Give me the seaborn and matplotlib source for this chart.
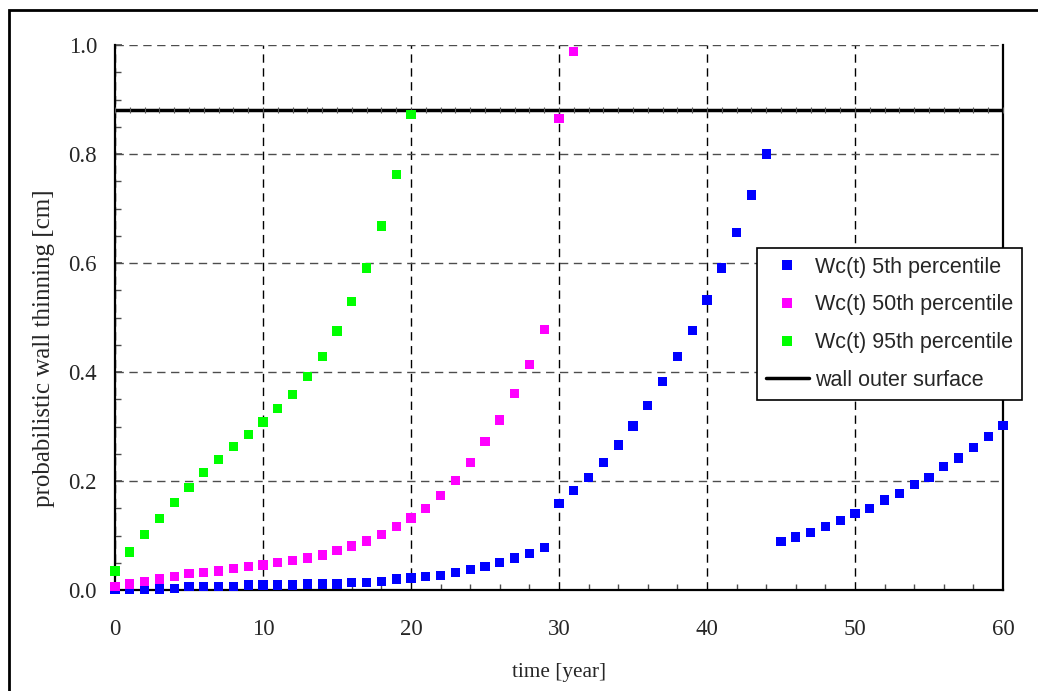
import matplotlib
matplotlib.use("Agg")
import numpy as np
import pandas as pd
import matplotlib.pyplot as plt
from matplotlib.patches import Rectangle
from matplotlib.ticker import MultipleLocator
import seaborn as sns

# years
years_p5 = list(range(0, 61))
years_p50 = list(range(0, 32))
years_p95 = list(range(0, 21))

# wall thinning [cm]
wc_p5 = [0.001, 0.001, 0.002, 0.002, 0.003, 0.006, 0.006, 0.006, 0.006, 0.009,
         0.009, 0.009, 0.009, 0.011, 0.011, 0.011, 0.014, 0.014, 0.016, 0.020,
         0.022, 0.025, 0.027, 0.032, 0.038, 0.043, 0.051, 0.059, 0.067, 0.078,
         0.159, 0.183, 0.207, 0.234, 0.266, 0.301, 0.338, 0.382, 0.428, 0.476,
         0.532, 0.591, 0.656, 0.725, 0.800, 0.089, 0.097, 0.105, 0.116, 0.127,
         0.140, 0.150, 0.165, 0.177, 0.193, 0.207, 0.226, 0.242, 0.261, 0.282,
         0.302]
wc_p50 = [0.006, 0.011, 0.016, 0.020, 0.025, 0.030, 0.032, 0.035, 0.040, 0.043,
          0.046, 0.051, 0.054, 0.059, 0.064, 0.073, 0.081, 0.090, 0.102, 0.116,
          0.132, 0.150, 0.174, 0.201, 0.234, 0.272, 0.312, 0.360, 0.414, 0.478,
          0.865, 0.988]
wc_p95 = [0.035, 0.070, 0.102, 0.131, 0.161, 0.188, 0.215, 0.239, 0.263, 0.285,
          0.308, 0.333, 0.359, 0.392, 0.429, 0.475, 0.529, 0.591, 0.668, 0.763,
          0.873]

wall_years = list(range(0, 61))
wall_outer = 0.88

labels = ["Wc(t) 5th percentile", "Wc(t) 50th percentile", "Wc(t) 95th percentile"]
colors = ["#0000FF", "#FF00FF", "#00FF00"]

df = pd.concat([
    pd.DataFrame({"year": years_p5, "wc": wc_p5, "series": labels[0]}),
    pd.DataFrame({"year": years_p50, "wc": wc_p50, "series": labels[1]}),
    pd.DataFrame({"year": years_p95, "wc": wc_p95, "series": labels[2]}),
])
wall_df = pd.DataFrame({"year": wall_years, "wc": [wall_outer] * len(wall_years)})

sns.set_style("white")
serif = ["Liberation Serif", "DejaVu Serif"]
sans = ["Liberation Sans", "DejaVu Sans"]

fig = plt.figure(figsize=(10.38, 6.91), dpi=100)
ax = fig.add_axes([115 / 1038, 1 - 590 / 691, 888 / 1038, 545 / 691])

# outer frame around the chart
fig.patches.append(Rectangle((8.5 / 1038, -0.1), 1.2, 1 - 9.5 / 691 + 0.1,
                             transform=fig.transFigure, fill=False,
                             edgecolor="black", linewidth=2))

sns.lineplot(data=wall_df, x="year", y="wc", ax=ax, color="black", linewidth=2.5,
             marker="|", markersize=4, markeredgewidth=0.8, markeredgecolor="0.35",
             label="wall outer surface", zorder=3)
sns.scatterplot(data=df, x="year", y="wc", hue="series", palette=colors,
                marker="s", s=45, linewidth=0, ax=ax, zorder=4)
for coll in ax.collections:
    coll.set_clip_on(False)

ax.set_xlim(0, 60)
ax.set_ylim(0, 1.0)
ax.xaxis.set_major_locator(MultipleLocator(10))
ax.xaxis.set_minor_locator(MultipleLocator(2))
ax.yaxis.set_minor_locator(MultipleLocator(0.05))
ax.set_yticks(np.arange(0, 1.01, 0.2))
ax.set_yticklabels([f"{v:.1f}" for v in np.arange(0, 1.01, 0.2)])

ax.grid(True, which="major", axis="x", color="black", linestyle=(0, (6, 4)), linewidth=1)
ax.grid(True, which="major", axis="y", color="0.3", linestyle=(0, (6, 4)), linewidth=1)

for side in ["left", "bottom", "right"]:
    ax.spines[side].set_visible(True)
    ax.spines[side].set_color("black")
    ax.spines[side].set_linewidth(1.6)
ax.spines["top"].set_visible(False)

ax.tick_params(axis="both", which="both", direction="in", color="0.3",
               bottom=True, left=True, top=False, right=False)
ax.tick_params(axis="x", which="major", length=0, pad=21)
ax.tick_params(axis="x", which="minor", length=4, width=1)
ax.tick_params(axis="y", which="major", length=5, width=1.2, pad=13)
ax.tick_params(axis="y", which="minor", length=4, width=1)
for lab in ax.get_xticklabels() + ax.get_yticklabels():
    lab.set_family(serif)
    lab.set_fontsize(16.5)

ax.set_xlabel("time [year]", family=serif, fontsize=15.3)
ax.set_ylabel("probabilistic wall thinning [cm]", family=serif, fontsize=18)
ax.xaxis.set_label_coords(0.5, -0.134)
ax.yaxis.set_label_coords(-0.068, 0.444)

handles, names = ax.get_legend_handles_labels()
order = [names.index(n) for n in labels] + [names.index("wall outer surface")]
leg = ax.legend([handles[i] for i in order], [names[i] for i in order],
                loc="upper left", bbox_to_anchor=(757 / 1038, 1 - 248 / 691),
                bbox_transform=fig.transFigure, frameon=True, fancybox=False,
                edgecolor="black", framealpha=1, borderaxespad=0,
                prop={"family": sans, "size": 15.5}, handlelength=2.0,
                labelspacing=0.78, borderpad=0.4, handletextpad=0.3,
                markerscale=1.0)
leg.get_frame().set_linewidth(1.2)
leg.set_zorder(10)
for h in leg.legend_handles:
    if h.get_label() == "wall outer surface" and hasattr(h, "set_marker"):
        h.set_marker("")

fig.savefig("out.png", dpi=100)
